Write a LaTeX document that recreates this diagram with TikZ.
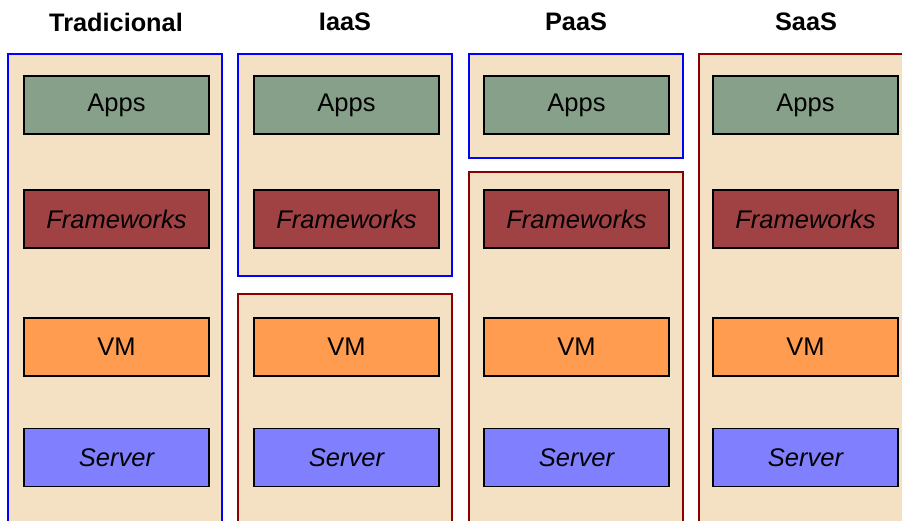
\documentclass[tikz,border=0pt]{standalone}
\usepackage{fontspec}
\setmainfont{Liberation Sans}
\usepackage{xcolor}
\definecolor{sand}{HTML}{F4E0C2}
\definecolor{appsgreen}{HTML}{86A08A}
\definecolor{fwred}{HTML}{A04244}
\definecolor{vmorange}{HTML}{FF9C50}
\definecolor{srvblue}{HTML}{8080FF}
\definecolor{darkred}{HTML}{8B0000}

\begin{document}
\begin{tikzpicture}[x=1pt,y=-1pt,
    every node/.style={font=\fontsize{25.5}{30}\selectfont},
    title/.style={font=\fontsize{25.3}{30}\selectfont\bfseries},
    ours/.style={draw=blue,line width=1.6pt,fill=sand,inner sep=0pt},
    theirs/.style={draw=darkred,line width=1.6pt,fill=sand,inner sep=0pt},
    layer/.style={draw=black,line width=1.8pt,minimum width=185pt,minimum height=58pt,inner sep=0pt}]
    \clip (0,0) rectangle (902,521);
    \fill[white] (0,0) rectangle (902,521);
    % column titles
    \node[title] (t1) at (116,22) {Tradicional};
    \node[title] (t2) at (345,22) {IaaS};
    \node[title] (t3) at (576,22) {PaaS};
    \node[title] (t4) at (806,22) {SaaS};
    % who manages what
    \node[ours,minimum width=214pt,minimum height=476pt] (trad) at (115,292) {};
    \node[ours,minimum width=214pt,minimum height=222pt] (iaasU) at (345,165) {};
    \node[theirs,minimum width=214pt,minimum height=236pt] (iaasP) at (345,412) {};
    \node[ours,minimum width=214pt,minimum height=104pt] (paasU) at (576,106) {};
    \node[theirs,minimum width=214pt,minimum height=358pt] (paasP) at (576,351) {};
    \node[theirs,minimum width=214pt,minimum height=476pt] (saas) at (806,292) {};
    % stacks
    \foreach \i/\x in {1/116.5,2/346.5,3/576.5,4/805.5}{
        \node[layer,fill=appsgreen] (apps\i) at (\x,105) {Apps};
        \node[layer,fill=fwred] (fw\i) at (\x,219) {\itshape Frameworks};
        \node[layer,fill=vmorange] (vm\i) at (\x,347) {VM};
        \node[layer,fill=srvblue] (srv\i) at (\x,457.5) {\itshape Server};
    }
\end{tikzpicture}
\end{document}
